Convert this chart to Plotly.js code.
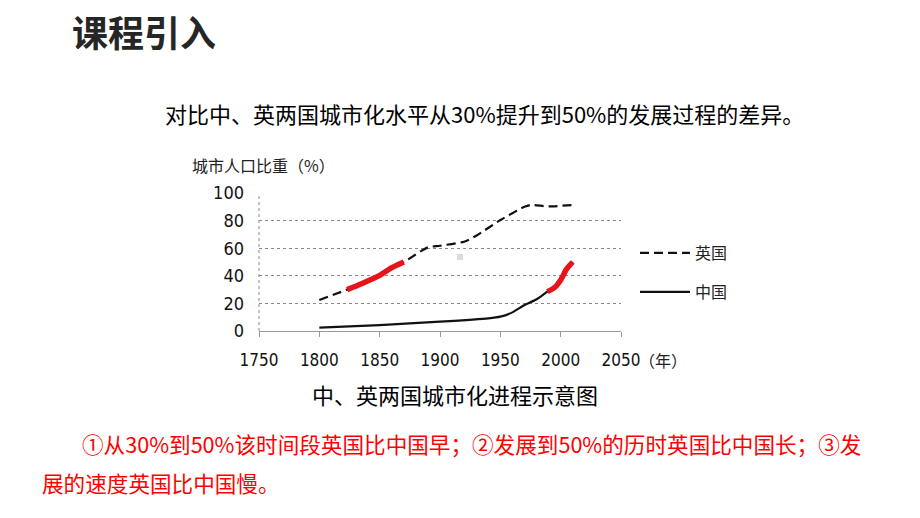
<!DOCTYPE html>
<html>
<head>
<meta charset="utf-8">
<script src="https://cdn.plot.ly/plotly-3.0.1.min.js"></script>
<style>
html,body{margin:0;padding:0;background:#fff;}
#chart{width:920px;height:518px;}
</style>
</head>
<body>
<div id="chart"></div>
<script>
// ---- data ----
var ukYears  = [1800, 1823, 1835, 1850, 1860, 1870, 1890, 1900, 1920, 1930, 1950, 1970, 1975, 1990, 2010];
var ukValues = [22.5, 30, 34.3, 40.3, 45.9, 50, 60.6, 61.8, 64.7, 69, 80.4, 90, 91.3, 90.3, 91.3];
var cnYears  = [1800, 1850, 1900, 1940, 1950, 1960, 1970, 1980, 1989, 1995, 2000, 2005, 2010];
var cnValues = [2.5, 4.3, 6.8, 9.2, 10.4, 13.5, 18.8, 23, 28.5, 31.5, 37, 45, 50];
var ukRedRange = [1823, 1870];
var cnRedRange = [1989, 2010];
var xTicks = [1750, 1800, 1850, 1900, 1950, 2000, 2050];
var yTicks = [0, 20, 40, 60, 80, 100];

function sub(xs, ys, r) {
  var ox = [], oy = [];
  for (var i = 0; i < xs.length; i++) {
    if (xs[i] >= r[0] && xs[i] <= r[1]) { ox.push(xs[i]); oy.push(ys[i]); }
  }
  return {x: ox, y: oy};
}
var ukRed = sub(ukYears, ukValues, ukRedRange);
var cnRed = sub(cnYears, cnValues, cnRedRange);

// pixel -> paper helpers (plot area 259..621 x 193..331)
function PX(x){ return (x - 259) / 362; }
function PY(y){ return (331 - y) / 138; }

var cjk = '"Noto Sans CJK SC", "Noto Sans", sans-serif';
var num = '"Liberation Sans Narrow", "DejaVu Sans Condensed", "Liberation Sans", sans-serif';

var traces = [
  {x: ukYears, y: ukValues, type: 'scatter', mode: 'lines', name: '英国',
   line: {color: '#111', width: 2.2, dash: '9px,5px', shape: 'spline', smoothing: 0.6},
   legend: 'legend', hoverinfo: 'skip'},
  {x: cnYears, y: cnValues, type: 'scatter', mode: 'lines', name: '中国',
   line: {color: '#111', width: 2.2, shape: 'spline', smoothing: 0.6},
   legend: 'legend2', hoverinfo: 'skip'},
  {x: ukRed.x, y: ukRed.y, type: 'scatter', mode: 'lines', showlegend: false,
   line: {color: '#e8141c', width: 5.5, shape: 'spline', smoothing: 0.6}, hoverinfo: 'skip'},
  {x: cnRed.x, y: cnRed.y, type: 'scatter', mode: 'lines', showlegend: false,
   line: {color: '#e8141c', width: 5.5, shape: 'spline', smoothing: 0.6}, hoverinfo: 'skip'}
];

var annotations = [
  {text: '课程引入', x: PX(70), y: PY(31), xanchor: 'left', yanchor: 'middle',
   font: {family: cjk, size: 36, color: '#262626', weight: 'bold'}},
  {text: '对比中、英两国城市化水平从30%提升到50%的发展过程的差异。', x: PX(163), y: PY(113),
   xanchor: 'left', yanchor: 'middle', font: {family: cjk, size: 22, color: '#000'}},
  {text: '城市人口比重（%）', x: PX(190), y: PY(165), xanchor: 'left', yanchor: 'middle',
   font: {family: cjk, size: 16, color: '#222'}},
  {text: '（年）', x: PX(637), y: PY(360), xanchor: 'left', yanchor: 'middle',
   font: {family: cjk, size: 16, color: '#222'}},
  {text: '中、英两国城市化进程示意图', x: PX(310), y: PY(394), xanchor: 'left', yanchor: 'middle',
   font: {family: cjk, size: 22, color: '#000'}},
  {text: '①从30%到50%该时间段英国比中国早；②发展到50%的历时英国比中国长；③发', x: PX(80), y: PY(443),
   xanchor: 'left', yanchor: 'middle', font: {family: cjk, size: 21.6, color: '#ff0000'}},
  {text: '展的速度英国比中国慢。', x: PX(40), y: PY(482),
   xanchor: 'left', yanchor: 'middle', font: {family: cjk, size: 21.6, color: '#ff0000'}}
];
annotations.forEach(function(a){ a.xref = 'paper'; a.yref = 'paper'; a.showarrow = false; });

var layout = {
  width: 920, height: 518,
  margin: {l: 259, r: 299, t: 193, b: 187},
  paper_bgcolor: '#fff', plot_bgcolor: '#fff',
  xaxis: {range: [1750, 2050], tickvals: xTicks, ticktext: xTicks.map(String),
          showgrid: false, zeroline: false, showline: true, linecolor: '#999', linewidth: 1,
          ticks: 'outside', ticklen: 5, tickcolor: '#999', ticklabelstandoff: 9,
          tickfont: {family: num, size: 17, color: '#111'}, fixedrange: true},
  yaxis: {range: [0, 100], tickvals: yTicks, ticktext: yTicks.map(String),
          showgrid: true, gridcolor: '#8a8a8a', gridwidth: 1, griddash: 'dot',
          zeroline: false, showline: false, ticks: '', ticklabelstandoff: 14,
          tickfont: {family: num, size: 18, color: '#111'}, fixedrange: true},
  legend: {x: PX(635), y: PY(236), xanchor: 'left', yanchor: 'top', bgcolor: 'rgba(0,0,0,0)',
           font: {family: cjk, size: 16, color: '#222'}, itemwidth: 50},
  legend2: {x: PX(635), y: PY(275), xanchor: 'left', yanchor: 'top', bgcolor: 'rgba(0,0,0,0)',
           font: {family: cjk, size: 16, color: '#222'}, itemwidth: 50},
  shapes: [
    {type: 'line', xref: 'paper', yref: 'paper', x0: 0, x1: 0, y0: 0, y1: 1,
     line: {color: '#8a8a8a', width: 1, dash: 'dot'}},
    {type: 'rect', xref: 'paper', yref: 'paper', x0: PX(457), x1: PX(463), y0: PY(260), y1: PY(254),
     fillcolor: '#dcdcdc', line: {width: 0}}
  ],
  annotations: annotations,
  showlegend: true
};

Plotly.newPlot('chart', traces, layout, {displayModeBar: false, staticPlot: true});
</script>
</body>
</html>
